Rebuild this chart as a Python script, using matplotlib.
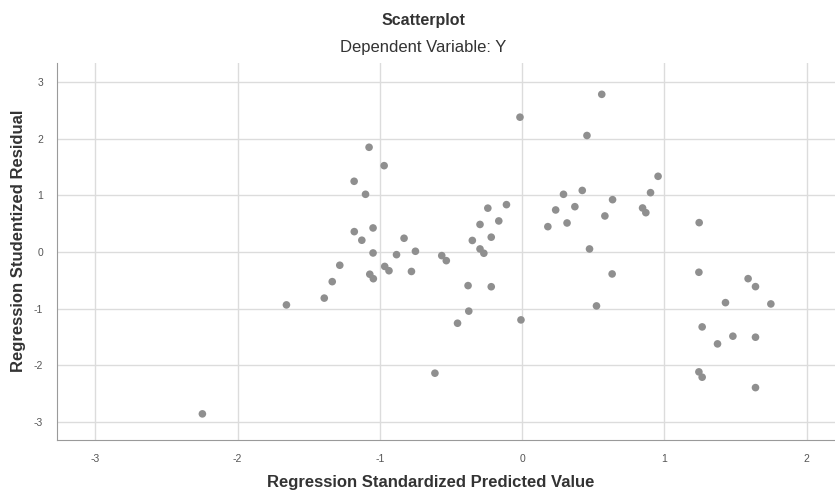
import numpy as np
import matplotlib
matplotlib.use("Agg")
import matplotlib.pyplot as plt

plt.rcParams['font.family'] = ['Liberation Sans', 'DejaVu Sans']
plt.rcParams['axes.unicode_minus'] = False

# standardized predicted value (x) and studentized residual (y)
pred = [-2.248, -1.657, -1.391, -1.335, -1.282, -1.181, -1.180, -1.127, -1.101, -1.076,
        -1.071, -1.046, -1.048, -1.048, -0.970, -0.966, -0.936, -0.883, -0.830, -0.778,
        -0.750, -0.613, -0.565, -0.533, -0.454, -0.380, -0.375, -0.350, -0.296, -0.296,
        -0.269, -0.241, -0.217, -0.217, -0.164, -0.110, -0.015, -0.008, 0.181, 0.236,
        0.291, 0.316, 0.371, 0.423, 0.456, 0.474, 0.523, 0.560, 0.582, 0.633,
        0.636, 0.847, 0.870, 0.903, 0.956, 1.243, 1.245, 1.243, 1.266, 1.266,
        1.374, 1.430, 1.482, 1.589, 1.641, 1.641, 1.641, 1.749]
resid = [-2.862, -0.936, -0.816, -0.525, -0.235, 1.249, 0.359, 0.207, 1.019, 1.850,
         -0.394, -0.473, 0.424, -0.018, 1.525, -0.256, -0.332, -0.048, 0.242, -0.345,
         0.012, -2.143, -0.065, -0.154, -1.260, -0.595, -1.046, 0.203, 0.486, 0.053,
         -0.023, 0.774, 0.261, -0.615, 0.548, 0.836, 2.382, -1.201, 0.447, 0.742,
         1.019, 0.512, 0.800, 1.087, 2.058, 0.053, -0.954, 2.786, 0.636, -0.389,
         0.924, 0.777, 0.694, 1.048, 1.337, -0.359, 0.518, -2.120, -1.325, -2.214,
         -1.625, -0.896, -1.489, -0.472, -0.613, -1.507, -2.398, -0.919]

xticks = [-3, -2, -1, 0, 1, 2]
yticks = [-3, -2, -1, 0, 1, 2, 3]

fig = plt.figure(figsize=(8.35, 4.92), dpi=100)
ax = fig.add_axes([0.0683, 0.105, 0.9317, 0.767])

ax.scatter(pred, resid, s=30, color='#8f8f8f', edgecolors='none', zorder=3)

ax.set_xlim(-3.27, 2.2)
ax.set_ylim(-3.33, 3.34)
ax.set_xticks(xticks)
ax.set_yticks(yticks)
ax.grid(True, color='#dcdcdc', linewidth=1)
ax.set_axisbelow(True)
ax.tick_params(length=0, labelsize=7.5, labelcolor='#555555', pad=10)

for side in ['top', 'right']:
    ax.spines[side].set_visible(False)
for side in ['left', 'bottom']:
    ax.spines[side].set_color('#9a9a9a')

fig.text(0.507, 0.958, "Scatterplot", ha='center', va='center',
         fontsize=11.5, color='#333333', fontweight='bold')
fig.text(0.507, 0.903, "Dependent Variable: Y", ha='center', va='center',
         fontsize=12, color='#333333')
fig.text(0.516, 0.02, "Regression Standardized Predicted Value", ha='center', va='center',
         fontsize=12, color='#333333', fontweight='bold')
fig.text(0.022, 0.51, "Regression Studentized Residual", ha='center', va='center',
         rotation=90, fontsize=12, color='#333333', fontweight='bold')

fig.savefig("out.png", dpi=100)
